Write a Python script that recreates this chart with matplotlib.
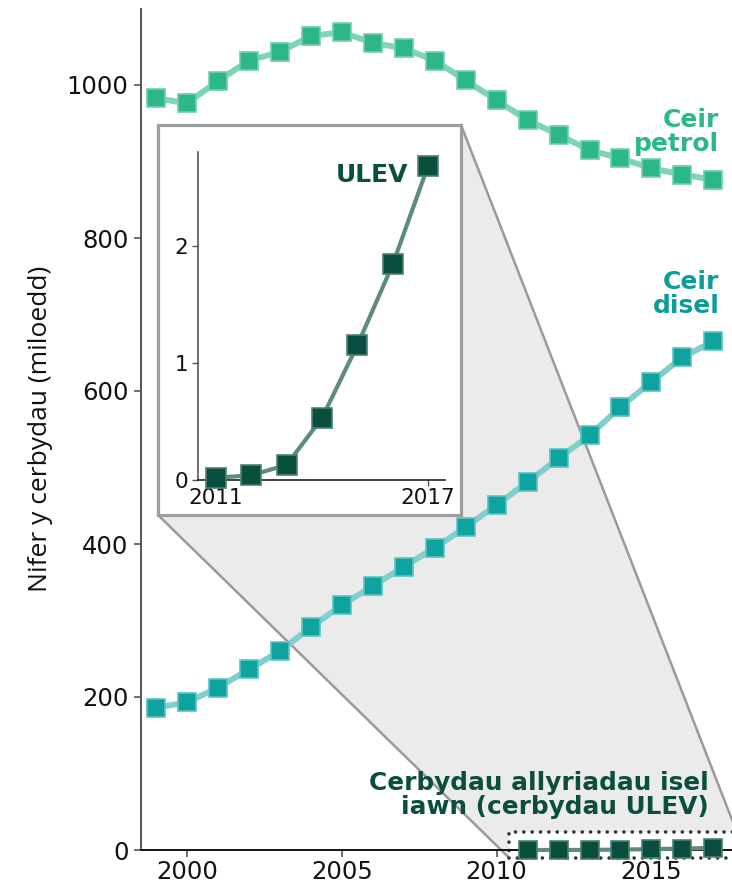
import matplotlib
matplotlib.use("Agg")
import matplotlib.pyplot as plt
from matplotlib.patches import Polygon, Rectangle

# ---- data ----
years = list(range(1999, 2018))
petrol = [983, 976, 1005, 1032, 1043, 1064, 1069, 1055, 1048, 1032, 1006,
          980, 954, 935, 915, 904, 891, 883, 876]
diesel = [186, 193, 212, 236, 260, 291, 320, 345, 370, 395, 422,
          451, 481, 512, 542, 579, 612, 644, 665]
ulev_years = list(range(2011, 2018))
ulev = [0.02, 0.04, 0.13, 0.53, 1.15, 1.84, 2.68]
main_yticks = [0, 200, 400, 600, 800, 1000]
main_xticks = [2000, 2005, 2010, 2015]
inset_yticks = [0, 1, 2]
inset_xticks = [2011, 2017]
ylabel = "Nifer y cerbydau (miloedd)"
lbl_petrol = "Ceir\npetrol"
lbl_diesel = "Ceir\ndisel"
lbl_ulev_main = "Cerbydau allyriadau isel\niawn (cerbydau ULEV)"
lbl_ulev_inset = "ULEV"

# ---- colours ----
c_pet, c_pet_line, c_pet_edge = "#2bb78a", "#80d4b6", "#6fd0ad"
c_dsl, c_dsl_line, c_dsl_edge = "#0ea3a1", "#80cfcc", "#5cc3c0"
c_ulv, c_ulv_line, c_ulv_edge = "#0a4e3f", "#5e8a7f", "#4f8072"
c_txt_dsl = "#0a9d9c"

W, H = 732, 883
fig = plt.figure(figsize=(W / 100, H / 100), dpi=100)
plt.rcParams['font.family'] = ['DejaVu Sans']

ax = fig.add_axes([141 / W, (H - 850) / H, (W - 141) / W, (850 - 8.5) / H])
ax.set_xlim(1998.52, 2017.6)
ax.set_ylim(0, 1100)
for s in ["top", "right"]:
    ax.spines[s].set_visible(False)
ax.spines["left"].set_color("#555555")
ax.spines["left"].set_linewidth(1.4)
ax.spines["bottom"].set_color("#111111")
ax.spines["bottom"].set_linewidth(1.4)
ax.spines["bottom"].set_zorder(2.5)
ax.set_yticks(main_yticks)
ax.set_xticks(main_xticks)
ax.tick_params(axis="both", colors="#555555", length=5, width=1.2,
               labelsize=17.5, labelcolor="#111111")
ax.tick_params(axis="x", pad=2)
ax.tick_params(axis="y", pad=4)
ax.set_ylabel(ylabel, family="Open Sans", fontsize=19, color="#111111", labelpad=10)

ax.plot(years, petrol, color=c_pet_line, lw=4.3, marker="s", ms=12.8,
        mfc=c_pet, mec=c_pet_edge, mew=1.2, zorder=4, clip_on=False)
ax.plot(years, diesel, color=c_dsl_line, lw=4.3, marker="s", ms=12.8,
        mfc=c_dsl, mec=c_dsl_edge, mew=1.2, zorder=4, clip_on=False)
ax.plot(ulev_years, ulev, color=c_ulv_line, lw=3, marker="s", ms=12.8,
        mfc=c_ulv, mec=c_ulv_edge, mew=1.2, zorder=4, clip_on=False)

# dotted zoom rectangle
rx0, rx1, ry0, ry1 = 2010.4, 2017.75, -10, 24
dot_rect = Rectangle((rx0, ry0), rx1 - rx0, ry1 - ry0, facecolor="white",
                     edgecolor="#333333", lw=2.6, linestyle=(0, (0.01, 2.3)),
                     capstyle="round", zorder=1.5, clip_on=False)
ax.add_patch(dot_rect)

# inset frame (figure fraction)
fx0, fy0, fw, fh = 158 / W, (H - 515) / H, 303 / W, 390 / H
frame = Rectangle((fx0, fy0), fw, fh, transform=fig.transFigure,
                  facecolor="white", edgecolor="#9e9e9e", lw=2.3, zorder=6,
                  clip_on=False)
ax.add_patch(frame)

# connector polygon
to_fig = fig.transFigure.inverted()
def d2f(x, y):
    return to_fig.transform(ax.transData.transform((x, y)))
tr = (fx0 + fw, fy0 + fh)
br = (fx0 + fw, fy0)
bl = (fx0, fy0)
r_bl = d2f(rx0, ry0)
r_br = d2f(rx1, ry0)
r_tr = d2f(rx1, ry1)
poly = Polygon([tr, br, bl, r_bl, r_br, r_tr], closed=True,
               transform=fig.transFigure, facecolor="#ebebeb",
               edgecolor="none", zorder=1, clip_on=False)
ax.add_patch(poly)
for a, b in [(bl, r_bl), (tr, r_tr)]:
    ax.plot([a[0], b[0]], [a[1], b[1]], transform=fig.transFigure,
            color="#9a9a9a", lw=1.8, zorder=1.2, clip_on=False)

# labels
ax.text(2017.19, 938, lbl_petrol, ha="right", va="center", color=c_pet,
        fontsize=18, fontweight="bold", linespacing=1.0, zorder=7)
ax.text(2017.19, 727, lbl_diesel, ha="right", va="center", color=c_txt_dsl,
        fontsize=18, fontweight="bold", linespacing=1.0, zorder=7)
ax.text(2016.84, 72, lbl_ulev_main, ha="right", va="center", color=c_ulv,
        fontsize=17.8, fontweight="bold", linespacing=1.0, zorder=7)

# inset axes
ax2 = fig.add_axes([198 / W, (H - 480) / H, (445 - 198) / W, (480 - 152) / H])
ax2.patch.set_alpha(0)
ax2.set_xlim(2010.49, 2017.48)
ax2.set_ylim(0, 2.8)
for s in ["top", "right"]:
    ax2.spines[s].set_visible(False)
ax2.spines["left"].set_color("#555555")
ax2.spines["left"].set_linewidth(1.2)
ax2.spines["bottom"].set_color("#222222")
ax2.spines["bottom"].set_linewidth(1.2)
ax2.set_yticks(inset_yticks)
ax2.set_xticks(inset_xticks)
ax2.tick_params(axis="both", colors="#555555", length=4, width=1,
                labelsize=15.5, labelcolor="#111111")
ax2.tick_params(axis="x", pad=2)
ax2.tick_params(axis="y", pad=3)
ax2.plot(ulev_years, ulev, color=c_ulv_line, lw=3, marker="s", ms=14,
         mfc=c_ulv, mec=c_ulv_edge, mew=1.2, zorder=4, clip_on=False)
ax2.text(2016.44, 2.6, lbl_ulev_inset, ha="right", va="center", color=c_ulv,
         fontsize=18, fontweight="bold")

fig.savefig("out.png", dpi=100)
